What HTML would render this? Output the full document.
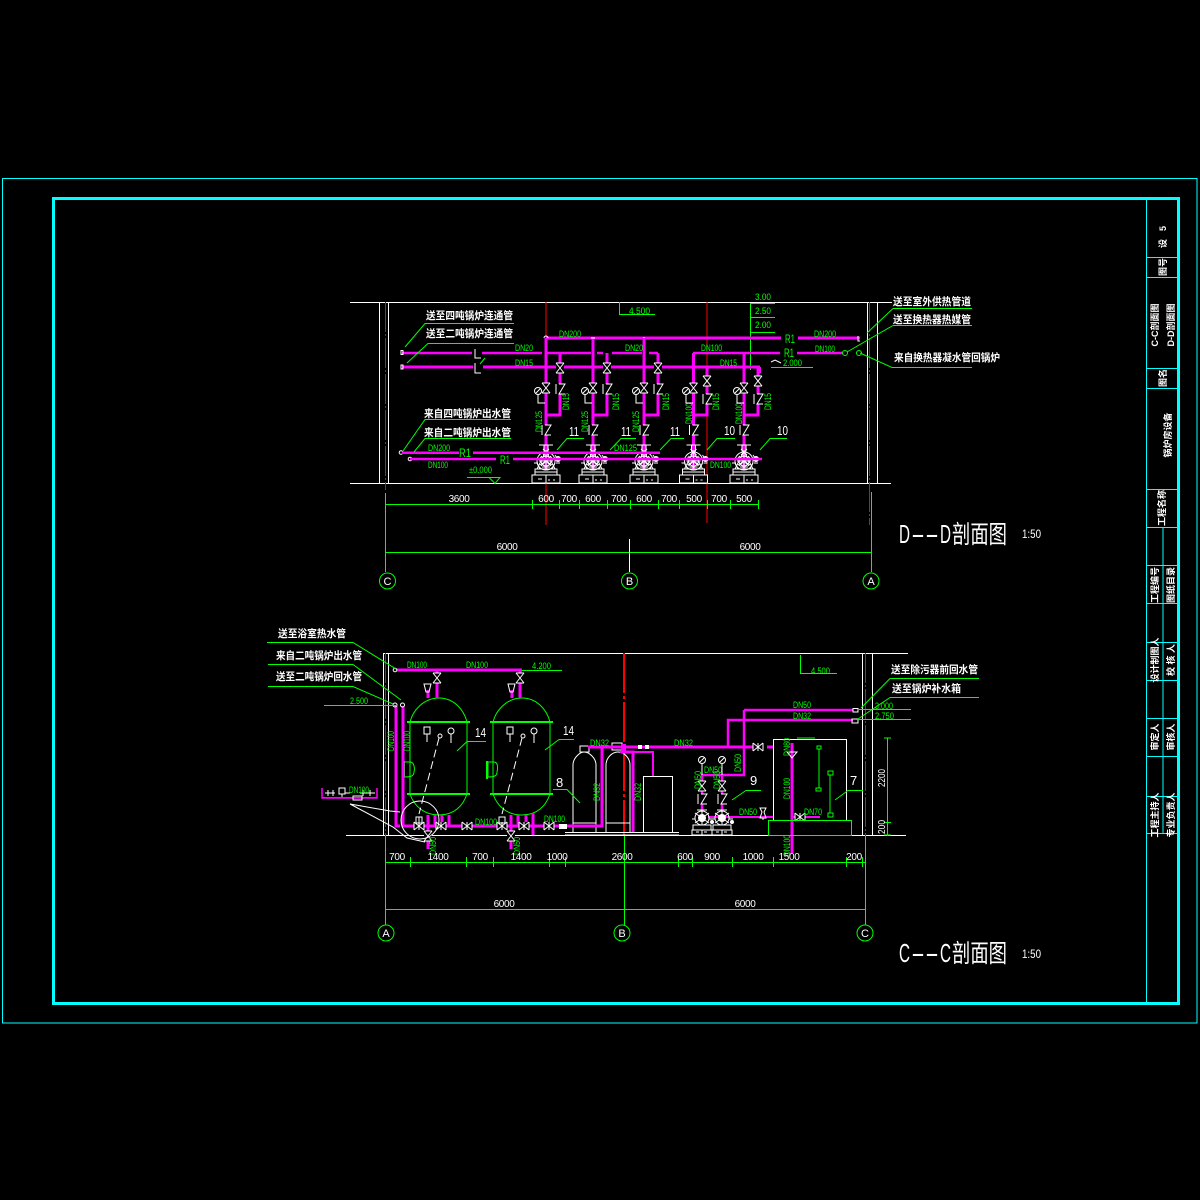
<!DOCTYPE html>
<html><head><meta charset="utf-8"><title>锅炉房设备 C-C D-D 剖面图</title>
<style>
html,body{margin:0;padding:0;background:#000}
svg{display:block}
text{font-family:"Liberation Sans","Noto Sans CJK SC",sans-serif}
.g{fill:#00ff00;font-size:9px;stroke:none}
.w{fill:#fff;font-size:10px;stroke:none}
.n{letter-spacing:-.35px}
.c{fill:#fff;font-size:10.5px;font-family:"Liberation Sans","Noto Sans CJK SC",sans-serif;font-weight:700;stroke:none}
.t{fill:#fff;font-size:9px;font-family:"Liberation Sans","Noto Sans CJK SC",sans-serif;font-weight:700;stroke:none;text-anchor:middle}
.m{stroke:#ff00ff;fill:none}
.gl{stroke:#00ff00;fill:none;stroke-width:1}
.wl{stroke:#fff;fill:none;stroke-width:1}
.r{stroke:#ff0000;fill:none}
.cy{stroke:#00ffff;fill:none}
</style></head><body>
<svg xmlns="http://www.w3.org/2000/svg" width="1200" height="1200" viewBox="0 0 1200 1200">
<defs>
<g id="vx" class="wl"><rect x="-4" y="-5" width="8" height="10" fill="#000" stroke="none"/><path d="M-4-5L4 5M4-5L-4 5M-4-5H4M-4 5H4"/></g>
<g id="hv" class="wl"><rect x="-5" y="-4" width="10" height="8" fill="#000" stroke="none"/><path d="M-5-4L5 4M-5 4L5-4M-5-4V4M5-4V4M0-4V4"/></g>
<g id="cv" class="wl"><rect x="-6" y="-5" width="12" height="10" fill="#000" stroke="none"/><path d="M-4-5V5M-1-5H5L-1 5H5"/></g>
<g id="gaugeL" class="wl"><circle cx="0" cy="0" r="3.5"/><path d="M-2 2L2-2M0 3.5V12H7"/></g>
<g id="pump" class="wl">
<rect x="-14" y="-8" width="28" height="8" fill="#000"/><path d="M-8-4H-4M2-3H4M7-3H9M0-8V0"/>
<rect x="-11" y="-14" width="22" height="6" fill="#000"/><path d="M-11-11H11"/>
<path d="M-7-38H7M-2-38V-32H2V-38M-3-34L3-28M3-34L-3-28"/>
<circle cx="0" cy="-22" r="9"/><circle cx="0" cy="-22" r="5"/>
<path d="M-9-14L0-32L9-14M-5-27L5-17M5-27L-5-17M-7-22H7M0-30V-14M-9-20L-6-14M9-20L6-14M-6-26L6-18M6-26L-6-18M-8-24H8M-4-16H4"/>
<circle cx="12" cy="-24" r="2.5" fill="#fff"/><path d="M9-28L13-22M-12-20H-8M10-20H14"/>
</g>
<g id="pumpS" class="wl">
<rect x="-10" y="-5" width="20" height="5" fill="#000"/><path d="M-6-3H-3M2-3H5M0-5V0"/>
<rect x="-9" y="-10" width="18" height="5" fill="#000"/>
<circle cx="0" cy="-17" r="7"/><circle cx="0" cy="-17" r="3.5" fill="#fff"/>
<path d="M-5-25H5M0-25V-10M-7-12L7-22M7-12L-7-22M-10-16H-7M7-16H11"/>
<circle cx="10" cy="-13" r="1.5" fill="#fff"/>
</g>
<g id="tank">
<path class="gl" d="M0 24C3 12 14 0 29 0C44 0 54 12 57 24M0 24V96M57 24V96M0 96C4 108 14 117 29 117C44 117 53 108 57 96"/>
<path stroke="#00ff00" stroke-width="2" fill="none" d="M-3 24H60M-3 96H60"/>
<path class="wl" d="M14 29H20V36H14ZM17 36V44M41 36V45"/><circle class="wl" cx="41" cy="33" r="3"/>
<circle class="wl" cx="30" cy="38" r="2"/><path class="wl" stroke-dasharray="8 4" d="M29 40L9 116"/>
</g>
</defs>
<rect width="1200" height="1200" fill="#000"/>

<!-- frame -->
<rect class="cy" x="2.5" y="178.5" width="1194.5" height="844.5" stroke-width="1"/>
<rect class="cy" x="53.5" y="198.5" width="1125" height="805" stroke-width="3"/>
<path class="cy" stroke-width="1" d="M1146.500 198V1004M1147 257.500H1178M1147 277.500H1178M1147 368.500H1178M1147 388.500H1178M1147 489.500H1178M1147 527.500H1178M1147 565.500H1178M1147 603.500H1178M1147 642.500H1178M1147 680.500H1178M1147 718.500H1178M1147 756.500H1178M1147 796.500H1178M1147 833.500H1178M1163 527V833"/>

<!-- title strip -->
<text class="t" transform="translate(1166,237) rotate(-90)" textLength="22" xml:space="preserve">设  5</text>
<text class="t" transform="translate(1166,267) rotate(-90)">图号</text>
<text class="t" transform="translate(1158,325) rotate(-90)">C-C剖面图</text>
<text class="t" transform="translate(1174,325) rotate(-90)">D-D剖面图</text>
<text class="t" transform="translate(1166,378) rotate(-90)">图名</text>
<text class="t" transform="translate(1171,435) rotate(-90)">锅炉房设备</text>
<text class="t" transform="translate(1165,508) rotate(-90)">工程名称</text>
<text class="t" transform="translate(1158,585) rotate(-90)">工程编号</text>
<text class="t" transform="translate(1174,585) rotate(-90)">图纸目录</text>
<text class="t" transform="translate(1158,660) rotate(-90)">设计制图人</text>
<text class="t" transform="translate(1174,660) rotate(-90)">校 核 人</text>
<text class="t" transform="translate(1158,737) rotate(-90)">审定人</text>
<text class="t" transform="translate(1174,737) rotate(-90)">审核人</text>
<text class="t" transform="translate(1158,815) rotate(-90)">工程主持人</text>
<text class="t" transform="translate(1174,815) rotate(-90)">专业负责人</text>

<!-- ============ D-D ============ -->
<path class="wl" d="M350 302.500H892M350 483.500H891M379.500 302V483M388.500 302V483M867.500 302V483M877.500 302V483"/>
<path class="r" stroke-dasharray="30 2 2 2" d="M385.500 302V490M869.500 302V525"/>
<path class="r" d="M546 302V525M707 302V523"/>

<!-- elevation marks -->
<path class="gl" d="M750.500 303V370M750 303.500H775M750 317.500H775M750 332.500H775M771 367.500H813M619.500 302V314.500H655"/>
<path class="gl" d="M467 477.500H500L495 483.500L489 477.500"/>
<path class="wl" d="M771 362L775 360L781 363"/>
<text class="g" x="755" y="300" textLength="16" lengthAdjust="spacingAndGlyphs">3.00</text>
<text class="g" x="755" y="314" textLength="16" lengthAdjust="spacingAndGlyphs">2.50</text>
<text class="g" x="755" y="328" textLength="16" lengthAdjust="spacingAndGlyphs">2.00</text>
<text class="g" x="783" y="366" textLength="19" lengthAdjust="spacingAndGlyphs">2.000</text>
<text class="g" x="629" y="314" textLength="21" lengthAdjust="spacingAndGlyphs">4.500</text>
<text class="g" x="469" y="473" textLength="23" lengthAdjust="spacingAndGlyphs">±0.000</text>

<!-- pipes D -->
<g class="m" stroke-width="3">
<path d="M546 338H781M798 338H860"/>
<path d="M693 353H780M797 353H843" stroke-width="2.500"/>
<path d="M402 353H472M482 353H542M545 353H591M597 353H603M612 353H642M649 353H658" stroke-width="2.500"/>
<path d="M402 367H473M483 367H760"/>
<path d="M760 367V373" stroke-width="2"/>
<path d="M546 338V445M593 338V445M644 338V445M693.500 353V445M744 353V445"/>
<path d="M546 415H560V353M593 415H607V353M644 415H658V353M693.500 415H707V367M744 415H758V367"/>
<path d="M546 445V470M593 445V470M644 445V470M693.500 445V470M744 445V470"/>
</g>
<rect x="473" y="349" width="8" height="22" fill="#000"/>
<path class="wl" d="M475 349V358H481M475 363V373H481"/>
<path class="gl" d="M480 364L485 358"/>
<path class="wl" d="M401 350.500H403V354.500H401ZM401 365H403V369H401Z"/>
<path class="wl" d="M591 338H595M644 337V338M544 338A2 2 0 1 1 548 338"/>
<circle class="wl" cx="401" cy="452.500" r="1.800"/><circle class="wl" cx="410" cy="459" r="1.800"/>

<!-- pump assemblies -->
<use href="#pump" x="546" y="483"/><use href="#pump" x="593" y="483"/><use href="#pump" x="644" y="483"/><use href="#pump" x="693.500" y="483"/><use href="#pump" x="744" y="483"/>
<g class="m" stroke-width="2.500"><path d="M402 452.800H459M473 452.800H660M410 459H496M513 459H762"/></g>
<g>
<use href="#vx" x="546" y="388"/><use href="#vx" x="593" y="388"/><use href="#vx" x="644" y="388"/><use href="#vx" x="693.500" y="388"/><use href="#vx" x="744" y="388"/>
<use href="#vx" x="560" y="368"/><use href="#vx" x="607" y="368"/><use href="#vx" x="658" y="368"/><use href="#vx" x="707" y="381"/><use href="#vx" x="758" y="381"/>
<use href="#cv" x="560" y="389"/><use href="#cv" x="607" y="389"/><use href="#cv" x="658" y="389"/><use href="#cv" x="707" y="399"/><use href="#cv" x="758" y="399"/>
<use href="#cv" x="546" y="430"/><use href="#cv" x="593" y="430"/><use href="#cv" x="644" y="430"/><use href="#cv" x="693.500" y="430"/><use href="#cv" x="744" y="430"/>
<use href="#gaugeL" x="538" y="391"/><use href="#gaugeL" x="585" y="391"/><use href="#gaugeL" x="636" y="391"/><use href="#gaugeL" x="686" y="391"/><use href="#gaugeL" x="737" y="391"/>
</g>
<circle class="gl" cx="845" cy="353" r="2.500"/><circle class="gl" cx="859" cy="353" r="2.500"/>
<path class="wl" d="M858 336V341H860"/>
<text x="785" y="343" fill="#00ff00" font-size="12" textLength="10" lengthAdjust="spacingAndGlyphs">R1</text>
<text x="784" y="357" fill="#00ff00" font-size="12" textLength="10" lengthAdjust="spacingAndGlyphs">R1</text>
<text x="459" y="457" fill="#00ff00" font-size="12" textLength="12" lengthAdjust="spacingAndGlyphs">R1</text>
<text x="500" y="464" fill="#00ff00" font-size="12" textLength="10" lengthAdjust="spacingAndGlyphs">R1</text>

<!-- labels D pipes -->
<g class="g">
<text x="559" y="337" textLength="22" lengthAdjust="spacingAndGlyphs">DN200</text>
<text x="515" y="351" textLength="18" lengthAdjust="spacingAndGlyphs">DN20</text>
<text x="515" y="366" textLength="18" lengthAdjust="spacingAndGlyphs">DN15</text>
<text x="625" y="351" textLength="18" lengthAdjust="spacingAndGlyphs">DN20</text>
<text x="701" y="351" textLength="21" lengthAdjust="spacingAndGlyphs">DN100</text>
<text x="720" y="366" textLength="17" lengthAdjust="spacingAndGlyphs">DN15</text>
<text x="814" y="337" textLength="22" lengthAdjust="spacingAndGlyphs">DN200</text>
<text x="815" y="352" textLength="20" lengthAdjust="spacingAndGlyphs">DN100</text>
<text x="428" y="451" textLength="22" lengthAdjust="spacingAndGlyphs">DN200</text>
<text x="428" y="468" textLength="20" lengthAdjust="spacingAndGlyphs">DN100</text>
<text x="614" y="451" textLength="23" lengthAdjust="spacingAndGlyphs">DN125</text>
<text x="710" y="468" textLength="21" lengthAdjust="spacingAndGlyphs">DN100</text>
<text transform="translate(542,432) rotate(-90)" textLength="21" lengthAdjust="spacingAndGlyphs">DN125</text>
<text transform="translate(569,410) rotate(-90)" textLength="17" lengthAdjust="spacingAndGlyphs">DN15</text>
<text transform="translate(588,432) rotate(-90)" textLength="21" lengthAdjust="spacingAndGlyphs">DN125</text>
<text transform="translate(619,410) rotate(-90)" textLength="17" lengthAdjust="spacingAndGlyphs">DN15</text>
<text transform="translate(639,432) rotate(-90)" textLength="21" lengthAdjust="spacingAndGlyphs">DN125</text>
<text transform="translate(669,410) rotate(-90)" textLength="17" lengthAdjust="spacingAndGlyphs">DN15</text>
<text transform="translate(692,424) rotate(-90)" textLength="21" lengthAdjust="spacingAndGlyphs">DN100</text>
<text transform="translate(719,410) rotate(-90)" textLength="17" lengthAdjust="spacingAndGlyphs">DN15</text>
<text transform="translate(742,424) rotate(-90)" textLength="21" lengthAdjust="spacingAndGlyphs">DN100</text>
<text transform="translate(771,410) rotate(-90)" textLength="17" lengthAdjust="spacingAndGlyphs">DN15</text>
</g>

<!-- leaders D -->
<path class="gl" d="M405 347L425 323.500H514M407 363L428 343.500H514M403 451L425 419.500H511M414 452L425 438.500H511M893 308.500H972M893 308.500L867 333M893 325.500H972M893 325.500L847 352M892 367.500H972M892 367.500L860 353"/>
<path class="gl" d="M557 450L567 438.500H584M610 450L621 438.500H636M660 450L671 438.500H684M707 450L717 438.500H735M760 450L770 438.500H787"/>
<text class="c" x="426" y="319" textLength="87" lengthAdjust="spacingAndGlyphs">送至四吨锅炉连通管</text>
<text class="c" x="426" y="337" textLength="87" lengthAdjust="spacingAndGlyphs">送至二吨锅炉连通管</text>
<text class="c" x="424" y="417" textLength="87" lengthAdjust="spacingAndGlyphs">来自四吨锅炉出水管</text>
<text class="c" x="424" y="436" textLength="87" lengthAdjust="spacingAndGlyphs">来自二吨锅炉出水管</text>
<text class="c" x="893" y="305" textLength="78" lengthAdjust="spacingAndGlyphs">送至室外供热管道</text>
<text class="c" x="893" y="323" textLength="78" lengthAdjust="spacingAndGlyphs">送至换热器热媒管</text>
<text class="c" x="894" y="361" textLength="106" lengthAdjust="spacingAndGlyphs">来自换热器凝水管回锅炉</text>
<text x="569" y="436" class="w" style="font-size:13px" textLength="10" lengthAdjust="spacingAndGlyphs">11</text>
<text x="621" y="436" class="w" style="font-size:13px" textLength="10" lengthAdjust="spacingAndGlyphs">11</text>
<text x="670" y="436" class="w" style="font-size:13px" textLength="10" lengthAdjust="spacingAndGlyphs">11</text>
<text x="724" y="435" class="w" style="font-size:13px" textLength="11" lengthAdjust="spacingAndGlyphs">10</text>
<text x="777" y="435" class="w" style="font-size:13px" textLength="11" lengthAdjust="spacingAndGlyphs">10</text>

<!-- dims D -->
<path class="gl" d="M385 504.500H758M385 552.500H871M385.500 493V572M871.500 492V572M532.500 500V509M559.500 500V509M579.500 500V509M607.500 500V509M630.500 500V509M658.500 500V509M679.500 500V509M707.500 500V509M730.500 500V509M758.500 500V509"/>
<path class="wl" d="M629.500 539V572"/>
<g class="w n" text-anchor="middle">
<text x="459" y="502">3600</text><text x="546" y="502">600</text><text x="569" y="502">700</text><text x="593" y="502">600</text><text x="619" y="502">700</text><text x="644" y="502">600</text><text x="669" y="502">700</text><text x="694" y="502">500</text><text x="719" y="502">700</text><text x="744" y="502">500</text>
<text x="507" y="550">6000</text><text x="750" y="550">6000</text>
</g>
<circle class="gl" cx="387.500" cy="581" r="8"/><circle class="gl" cx="629.500" cy="581" r="8"/><circle class="gl" cx="871" cy="581" r="8"/>
<text class="w" x="387.500" y="585" text-anchor="middle" style="font-size:11px">C</text><text class="w" x="629.500" y="585" text-anchor="middle" style="font-size:11px">B</text><text class="w" x="871" y="585" text-anchor="middle" style="font-size:11px">A</text>
<g fill="#fff" font-size="26">
<text x="899" y="543" textLength="11" lengthAdjust="spacingAndGlyphs">D</text>
<text x="911" y="543" textLength="28" lengthAdjust="spacingAndGlyphs">--</text>
<text x="940" y="543" textLength="11" lengthAdjust="spacingAndGlyphs">D</text>
<text x="952" y="543" textLength="55" lengthAdjust="spacingAndGlyphs" font-size="25">剖面图</text>
</g>
<text x="1022" y="538" fill="#fff" font-size="12" textLength="19" lengthAdjust="spacingAndGlyphs">1:50</text>

<!-- ============ C-C ============ -->
<path class="wl" d="M383 653.500H908M346 835.500H906M383.500 653V835M388.500 653V835M862.500 653V835M872.500 653V835"/>
<path class="r" stroke-dasharray="30 2 2 2" d="M385.500 653V838M865.500 653V836"/>
<path class="r" stroke-width="2" stroke-dasharray="40 3 3 3" d="M624 653V835"/>

<!-- tanks -->
<use href="#tank" x="410" y="698"/>
<use href="#tank" x="493" y="698"/>
<path class="gl" d="M404 762H410C414 762 415 768 414 772C414 776 411 777 404 777V762"/>
<path d="M404 761V777" stroke="#00ff00" stroke-width="2"/>
<path class="gl" d="M488 762H494C498 762 498 768 497 772C497 776 494 777 488 777V762"/>
<path d="M487 761V779" stroke="#00ff00" stroke-width="2"/>

<!-- softeners -->
<path class="wl" d="M573 833V765C573 758 580 752 584 752C589 752 596 758 596 765V833M573 823H596M580 746H589V752H580Z"/>
<path class="wl" d="M606 833V765C606 758 612 752 618 752C624 752 630 758 630 765V833M606 823H630M612 743H622V750H612Z"/>
<rect class="wl" x="643.500" y="776.500" width="29" height="56"/>
<path class="wl" d="M565 832.500H679M565 835H679"/>

<!-- pipes C -->
<g class="m" stroke-width="3">
<path d="M397 670H522"/>
<path d="M437 670V698M520 670V698M428 690V698M512 690V698"/>
<path d="M396 706V826H400M403 706V826H600"/>
<path d="M428 815V826M435 815V826M442 815V826M449 815V826M511 815V826M518 815V826M526 815V826M533 813V835"/>
<path d="M428 826V849M511 826V849"/>
<path d="M588 747H754M767 747H774"/>
<path d="M602 747V826H596"/>
<path d="M621 752H633V832"/>
<path d="M620 752H653V776" stroke-width="2"/>
<path d="M728 747V720H853" stroke-width="2.500"/>
<path d="M744 710V775H702V812M722 775V812M744 710H853" stroke-width="2.500"/>
<path d="M708 817H773" stroke-width="2"/>
<path d="M792 743V853"/>
<path d="M793 817H820" stroke-width="2"/>
</g>
<rect x="621" y="744" width="5" height="9" fill="#ff00ff"/>
<path d="M322 788V798H377V788" class="m" stroke-width="1.500"/>
<rect x="322" y="797" width="55" height="1.500" fill="#ff00ff"/>

<!-- valves C -->
<use href="#vx" x="437" y="678"/><use href="#vx" x="520" y="678"/>
<path class="wl" d="M424 684H431L429 692H426ZM508 684H515L513 692H510Z"/>
<use href="#hv" x="467" y="826"/><use href="#hv" x="549" y="826"/><use href="#vx" x="428" y="836"/><use href="#vx" x="511" y="836"/>
<use href="#hv" x="419" y="826"/><use href="#hv" x="502" y="826"/>
<path class="wl" d="M416 817H422V823H416ZM419 817V823M499 817H505V823H499Z"/>
<use href="#hv" x="441" y="826"/><use href="#hv" x="524" y="826"/>
<rect x="559" y="824" width="8" height="5" fill="#fff"/>
<use href="#hv" x="758" y="747"/>
<rect x="638" y="745" width="4" height="4" fill="#fff"/><rect x="645" y="745" width="4" height="4" fill="#fff"/>
<use href="#vx" x="702" y="786"/><use href="#vx" x="722" y="786"/>
<use href="#cv" x="702" y="799"/><use href="#cv" x="722" y="799"/>
<circle class="wl" cx="702" cy="760" r="3.500"/><path class="wl" d="M700 762L704 758M702 764V775"/>
<circle class="wl" cx="722" cy="760" r="3.500"/><path class="wl" d="M720 762L724 758M722 764V775"/>
<use href="#pumpS" x="702" y="835"/><use href="#pumpS" x="722" y="835"/>
<path class="wl" d="M760 808H766L764 812L766 818H760L762 812ZM763 818V820"/>
<use href="#hv" x="800" y="817"/>
<path class="wl" d="M787 752H797L792 758Z"/>

<!-- tank 7 -->
<rect class="wl" x="773.500" y="739.500" width="73" height="81"/>
<rect class="gl" x="768.500" y="820.500" width="83" height="15"/>
<path class="gl" d="M797 738H815"/>
<path class="gl" stroke-width="1.500" d="M817 746H821V749H817ZM816 788H821V791H816ZM819 749V788M828 771H833V775H828ZM828 813H833V817H828ZM830 775V813"/>

<!-- small details -->
<circle class="wl" cx="395" cy="670" r="1.800"/><circle class="wl" cx="395" cy="705" r="2"/><circle class="wl" cx="402.500" cy="705" r="2"/>
<circle class="wl" cx="420" cy="820" r="19"/>
<path class="wl" d="M350 804L390 811L400 812M350 804L393 827L407 838L425 842"/>
<path class="wl" d="M325 793H335M328 790V796M333 790V796M345 793H350M360 793H375M363 790V796M370 790V796M339 788H345V794H339ZM342 794V797M353 796H362V800H353Z"/>
<path class="wl" d="M853 708.500H858V712H853ZM852 719H858V723H852Z"/>

<!-- elevation / dim C -->
<path class="gl" d="M800.500 655V673.500H837M522 670.500H562M324 705.500H396M859 709.500H911M856 719.500H911"/>
<text class="g" x="811" y="674" textLength="19" lengthAdjust="spacingAndGlyphs">4.500</text>
<text class="g" x="532" y="669" textLength="19" lengthAdjust="spacingAndGlyphs">4.200</text>
<text class="g" x="350" y="704" textLength="18" lengthAdjust="spacingAndGlyphs">2.500</text>
<text class="g" x="875" y="709" textLength="18" lengthAdjust="spacingAndGlyphs">3.000</text>
<text class="g" x="875" y="719" textLength="19" lengthAdjust="spacingAndGlyphs">2.750</text>

<g class="g">
<text x="407" y="668" textLength="20" lengthAdjust="spacingAndGlyphs">DN100</text>
<text x="466" y="668" textLength="22" lengthAdjust="spacingAndGlyphs">DN100</text>
<text x="349" y="793" textLength="20" lengthAdjust="spacingAndGlyphs">DN100</text>
<text x="475" y="825" textLength="22" lengthAdjust="spacingAndGlyphs">DN100</text>
<text x="544" y="822" textLength="21" lengthAdjust="spacingAndGlyphs">DN100</text>
<text x="590" y="746" textLength="19" lengthAdjust="spacingAndGlyphs">DN32</text>
<text x="674" y="746" textLength="19" lengthAdjust="spacingAndGlyphs">DN32</text>
<text x="704" y="773" textLength="18" lengthAdjust="spacingAndGlyphs">DN50</text>
<text x="739" y="815" textLength="18" lengthAdjust="spacingAndGlyphs">DN50</text>
<text x="804" y="815" textLength="18" lengthAdjust="spacingAndGlyphs">DN70</text>
<text x="793" y="708" textLength="18" lengthAdjust="spacingAndGlyphs">DN50</text>
<text x="793" y="719" textLength="18" lengthAdjust="spacingAndGlyphs">DN32</text>
<text transform="translate(394,751) rotate(-90)" textLength="20" lengthAdjust="spacingAndGlyphs">DN100</text>
<text transform="translate(410,751) rotate(-90)" textLength="20" lengthAdjust="spacingAndGlyphs">DN100</text>
<text transform="translate(436,855) rotate(-90)" textLength="18" lengthAdjust="spacingAndGlyphs">DN50</text>
<text transform="translate(520,855) rotate(-90)" textLength="18" lengthAdjust="spacingAndGlyphs">DN50</text>
<text transform="translate(600,801) rotate(-90)" textLength="18" lengthAdjust="spacingAndGlyphs">DN32</text>
<text transform="translate(641,801) rotate(-90)" textLength="18" lengthAdjust="spacingAndGlyphs">DN32</text>
<text transform="translate(741,772) rotate(-90)" textLength="18" lengthAdjust="spacingAndGlyphs">DN50</text>
<text transform="translate(701,789) rotate(-90)" textLength="18" lengthAdjust="spacingAndGlyphs">DN50</text>
<text transform="translate(720,789) rotate(-90)" textLength="18" lengthAdjust="spacingAndGlyphs">DN50</text>
<text transform="translate(790,756) rotate(-90)" textLength="18" lengthAdjust="spacingAndGlyphs">DN80</text>
<text transform="translate(790,799) rotate(-90)" textLength="21" lengthAdjust="spacingAndGlyphs">DN100</text>
<text transform="translate(790,856) rotate(-90)" textLength="21" lengthAdjust="spacingAndGlyphs">DN100</text>
</g>

<!-- leaders C -->
<path class="gl" d="M267 642.500H353L396 669M268 664.500H353L401 700M268 686.500H353L393 704M890 678.500H979M890 678.500L861 708M890 697.500H979M890 697.500L858 719"/>
<path class="gl" d="M457 751L467 741.500H486M545 750L559 739.500H574M553 789.500H567L580 803M732 800L746 790.500H761M835 800L848 790.500H863"/>
<text class="c" x="278" y="637" textLength="68" lengthAdjust="spacingAndGlyphs">送至浴室热水管</text>
<text class="c" x="276" y="659" textLength="86" lengthAdjust="spacingAndGlyphs">来自二吨锅炉出水管</text>
<text class="c" x="276" y="680" textLength="86" lengthAdjust="spacingAndGlyphs">送至二吨锅炉回水管</text>
<text class="c" x="891" y="673" textLength="87" lengthAdjust="spacingAndGlyphs">送至除污器前回水管</text>
<text class="c" x="892" y="692" textLength="69" lengthAdjust="spacingAndGlyphs">送至锅炉补水箱</text>
<text class="w" x="475" y="737" style="font-size:13px" textLength="11" lengthAdjust="spacingAndGlyphs">14</text>
<text class="w" x="563" y="735" style="font-size:13px" textLength="11" lengthAdjust="spacingAndGlyphs">14</text>
<text class="w" x="556" y="787" style="font-size:13px">8</text>
<text class="w" x="750" y="785" style="font-size:13px">9</text>
<text class="w" x="850" y="785" style="font-size:13px">7</text>

<!-- dims C -->
<path class="gl" d="M385 862.500H865M385 909.500H865M385.500 836V925M624.500 836V925M865.500 836V925M410.500 857V867M466.500 857V867M493.500 857V867M549.500 857V867M565.500 857V867M678.500 857V867M692.500 857V867M732.500 857V867M773.500 857V867M846.500 857V867M862.500 857V867"/>
<g class="w n" text-anchor="middle">
<text x="397" y="860">700</text><text x="438" y="860">1400</text><text x="480" y="860">700</text><text x="521" y="860">1400</text><text x="557" y="860">1000</text><text x="622" y="860">2600</text><text x="685" y="860">600</text><text x="712" y="860">900</text><text x="753" y="860">1000</text><text x="789" y="860">1500</text><text x="854" y="860">200</text>
<text x="504" y="907">6000</text><text x="745" y="907">6000</text>
</g>
<path class="gl" d="M887.500 738V836M884 822.500H891M884 738H891M884 835H891"/>
<text class="w" transform="translate(885,787) rotate(-90)" textLength="18" lengthAdjust="spacingAndGlyphs">2200</text>
<text class="w" transform="translate(885,834) rotate(-90)" textLength="14" lengthAdjust="spacingAndGlyphs">200</text>
<circle class="gl" cx="386" cy="933" r="8"/><circle class="gl" cx="622" cy="933" r="8"/><circle class="gl" cx="865" cy="933" r="8"/>
<text class="w" x="386" y="937" text-anchor="middle" style="font-size:11px">A</text>
<text class="w" x="622" y="937" text-anchor="middle" style="font-size:11px">B</text>
<text class="w" x="865" y="937" text-anchor="middle" style="font-size:11px">C</text>
<g fill="#fff" font-size="26">
<text x="899" y="962" textLength="11" lengthAdjust="spacingAndGlyphs">C</text>
<text x="911" y="962" textLength="28" lengthAdjust="spacingAndGlyphs">--</text>
<text x="940" y="962" textLength="11" lengthAdjust="spacingAndGlyphs">C</text>
<text x="952" y="962" textLength="55" lengthAdjust="spacingAndGlyphs" font-size="25">剖面图</text>
</g>
<text x="1022" y="958" fill="#fff" font-size="12" textLength="19" lengthAdjust="spacingAndGlyphs">1:50</text>
</svg>
</body></html>
